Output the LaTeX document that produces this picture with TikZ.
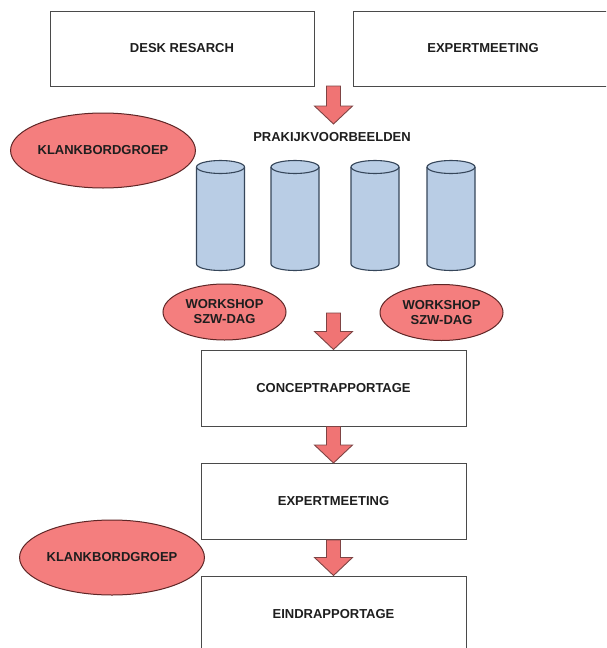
\documentclass[tikz,border=0pt]{standalone}
\usepackage{fontspec}
\setmainfont{Liberation Sans}
\usetikzlibrary{shapes.geometric,calc}
\definecolor{boxline}{HTML}{4A4A4A}
\definecolor{redfill}{HTML}{F47E7E}
\definecolor{redline}{HTML}{5E2626}
\definecolor{arrfill}{HTML}{F07474}
\definecolor{arrline}{HTML}{7E4444}
\definecolor{cylfill}{HTML}{B9CDE5}
\definecolor{cylline}{HTML}{36465A}
\definecolor{txt}{HTML}{1E1E1E}
\tikzset{
  every node/.style={font=\fontsize{13}{16}\selectfont\bfseries, text=txt},
  stepbox/.style={draw=boxline, line width=1pt, fill=white, rectangle, inner sep=0pt,
    minimum width=265pt, minimum height=76pt},
  redell/.style={draw=redline, line width=1pt, fill=redfill, ellipse, inner sep=0pt, align=center},
  blockarr/.style={draw=arrline, line width=0.9pt, fill=arrfill, line join=miter},
  cylbody/.style={draw=cylline, line width=1.1pt, fill=cylfill}
}
\newcommand\blockarrow[2]{%
  \path[blockarr] let \p1=(#1), \p2=(#2) in
    (\x1-7pt,\y1) -- (\x1+7pt,\y1) -- (\x1+7pt,\y2+18pt) -- (\x1+19pt,\y2+18pt)
    -- (\x1,\y2) -- (\x1-19pt,\y2+18pt) -- (\x1-7pt,\y2+18pt) -- cycle;}
\newcommand\cylat[2]{% #1 name, #2 centre x
  \path[cylbody] (#2-24,167) -- (#2-24,264) arc (180:0:24 and 6.5) -- (#2+24,167)
    arc (0:-180:24 and 6.5) -- cycle;
  \draw[cylline, line width=1.1pt] (#2-24,167) arc (180:0:24 and 6.5);
  \node[minimum width=48pt, minimum height=110pt, inner sep=0pt] (#1) at (#2,215) {};}
\begin{document}
\begin{tikzpicture}[x=1pt,y=-1pt]
\useasboundingbox (0,0) rectangle (606,648);
\clip (0,0) rectangle (606,648);
\fill[white] (0,0) rectangle (606,648);

% top boxes
\node[stepbox, minimum width=264pt, minimum height=75pt] (desk) at (182,48.5) {DESK RESARCH};
\node[stepbox, minimum width=260pt, minimum height=75pt] (exp1) at (483,48.5) {EXPERTMEETING};

% arrow 1
\coordinate (a1s) at (333.5,86);
\coordinate (a1t) at (333.5,124);
\blockarrow{a1s}{a1t}

\node (prak) at (332,137) {PRAKIJKVOORBEELDEN};
\node[redell, minimum width=180pt, minimum height=75pt] (klank1) at (103,150.5) {KLANKBORDGROEP};

% cylinders
\cylat{c1}{220.5}
\cylat{c2}{295}
\cylat{c3}{375}
\cylat{c4}{451}

% workshops
\node[redell, minimum width=123pt, minimum height=56pt] (ws1) at (224.5,312) {WORKSHOP\\[-1pt]SZW-DAG};
\node[redell, minimum width=123pt, minimum height=56pt] (ws2) at (441.5,312.5) {WORKSHOP\\[-1pt]SZW-DAG};

% column of steps
\node[stepbox] (concept) at (333.5,388) {CONCEPTRAPPORTAGE};
\node[stepbox] (exp2) at (333.5,501.5) {EXPERTMEETING};
\node[stepbox] (eind) at (333.5,614) {EINDRAPPORTAGE};

\node[redell, minimum width=180pt, minimum height=75pt] (klank2) at (112,557.5) {KLANKBORDGROEP};

% arrows
\coordinate (a2s) at (333.5,313);
\blockarrow{a2s}{concept.north}
\blockarrow{concept.south}{exp2.north}
\blockarrow{exp2.south}{eind.north}
\end{tikzpicture}
\end{document}
